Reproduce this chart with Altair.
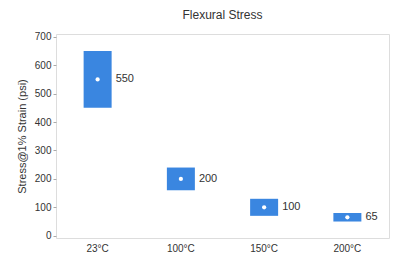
import altair as alt
import pandas as pd

categories = ["23°C", "100°C", "150°C", "200°C"]
means = [550, 200, 100, 65]
lows = [450, 160, 70, 50]
highs = [650, 240, 130, 80]
y_ticks = [0, 100, 200, 300, 400, 500, 600, 700]

df = pd.DataFrame({"cat": categories, "mean": means, "lo": lows, "hi": highs})

font = "Liberation Sans"
x = alt.X("cat:N", sort=categories, title=None,
          scale=alt.Scale(paddingInner=0, paddingOuter=0),
          axis=alt.Axis(labelAngle=0, ticks=False, domain=False, labelPadding=5,
                        labelFontSize=10, labelColor="#333", labelFont=font))
yscale = alt.Scale(domain=[-8, 710], nice=False, zero=False)
yaxis = alt.Axis(values=y_ticks, grid=False, domain=False,
                 tickSize=3, tickColor="#aaa", labelPadding=2, labelFontSize=10,
                 labelOverlap=False, labelFlush=False,
                 labelColor="#333", labelFont=font, titleFont=font, titleFontSize=11,
                 titleFontWeight="normal", titleColor="#333", titlePadding=7)
ytitle = "Stress@1% Strain (psi)"

base = alt.Chart(df)
bars = base.mark_bar(color="#3a86e0", size=28).encode(
    x=x,
    y=alt.Y("lo:Q", scale=yscale, axis=yaxis, title=ytitle),
    y2="hi:Q",
)
dots = base.mark_point(filled=True, color="white", size=18, opacity=1).encode(
    x=x, y=alt.Y("mean:Q", scale=yscale, axis=yaxis, title=ytitle)
)
labels = base.mark_text(align="left", baseline="middle", dx=18, fontSize=11,
                        color="#333", font=font).encode(
    x=x, y=alt.Y("mean:Q", scale=yscale, axis=yaxis, title=ytitle), text="mean:Q"
)

chart = (bars + dots + labels).properties(
    width=333, height=204,
    autosize=alt.AutoSizeParams(type="none"),
    padding={"left": 48, "top": 26, "right": 16, "bottom": 15},
    title=alt.TitleParams("Flexural Stress", fontSize=12, fontWeight="normal",
                          color="#333", font=font, offset=10),
).configure_view(stroke="#aaa", strokeWidth=1).configure_axisY(
    labelOverlap=False
).configure(background="white")

chart.save("out.html", embed_options={"renderer": "svg", "actions": False})
